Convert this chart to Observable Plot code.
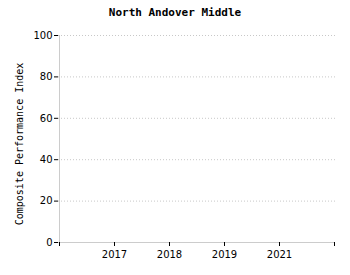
<!DOCTYPE html>
<html>
<head>
<meta charset="utf-8">
<script src="https://cdn.jsdelivr.net/npm/d3@7"></script>
<script src="https://cdn.jsdelivr.net/npm/@observablehq/plot@0.6"></script>
<style>
body { margin: 0; background: #fff; }
#title { width: 350px; height: 22px; padding-top: 6px; box-sizing: border-box; line-height: 13px; text-align: center; font: bold 11px "DejaVu Sans Mono", monospace; color: #000; }
</style>
</head>
<body>
<div id="title">North Andover Middle</div>
<div id="chart"></div>
<script>
const title = "North Andover Middle";
const yLabel = "Composite Performance Index";
const xCategories = ["start", "2017", "2018", "2019", "2021", "end"];
const xTickLabels = ["", "2017", "2018", "2019", "2021", ""];
const yTicks = [0, 20, 40, 60, 80, 100];
const yGrid = [20, 40, 60, 80, 100];
const cpiValues = []; // no data points shown in the reference

document.getElementById("title").textContent = title;

const chart = Plot.plot({
  width: 350,
  height: 253,
  marginTop: 13,
  marginBottom: 33,
  marginLeft: 58,
  marginRight: 15,
  style: { fontFamily: "DejaVu Sans, sans-serif", fontSize: "10px", color: "#000", background: "#fff" },
  x: { type: "point", domain: xCategories, padding: 0 },
  y: { domain: [0, 100] },
  marks: [
    Plot.ruleY(yGrid, { stroke: "#c8c8c8", strokeDasharray: "1,2", strokeWidth: 1 }),
    Plot.ruleY([0], { stroke: "#ccc" }),
    Plot.ruleX([xCategories[0]], { stroke: "#ccc" }),
    Plot.axisX({ ticks: xCategories, tickSize: 4, tickPadding: 4, stroke: "#000", tickFormat: (d) => xTickLabels[xCategories.indexOf(d)], label: null, fontSize: 10 }),
    Plot.axisY({ ticks: yTicks, tickSize: 4, tickPadding: 2, stroke: "#000", label: null, fontSize: 10 }),
    Plot.text([yLabel], { frameAnchor: "left", textAnchor: "middle", rotate: -90, dx: -39, dy: 5, fontFamily: "DejaVu Sans Mono, monospace", fontSize: 10, fill: "#000" }),
    Plot.dot(cpiValues, { x: "year", y: "value" })
  ]
});
document.getElementById("chart").appendChild(chart);
</script>
</body>
</html>
